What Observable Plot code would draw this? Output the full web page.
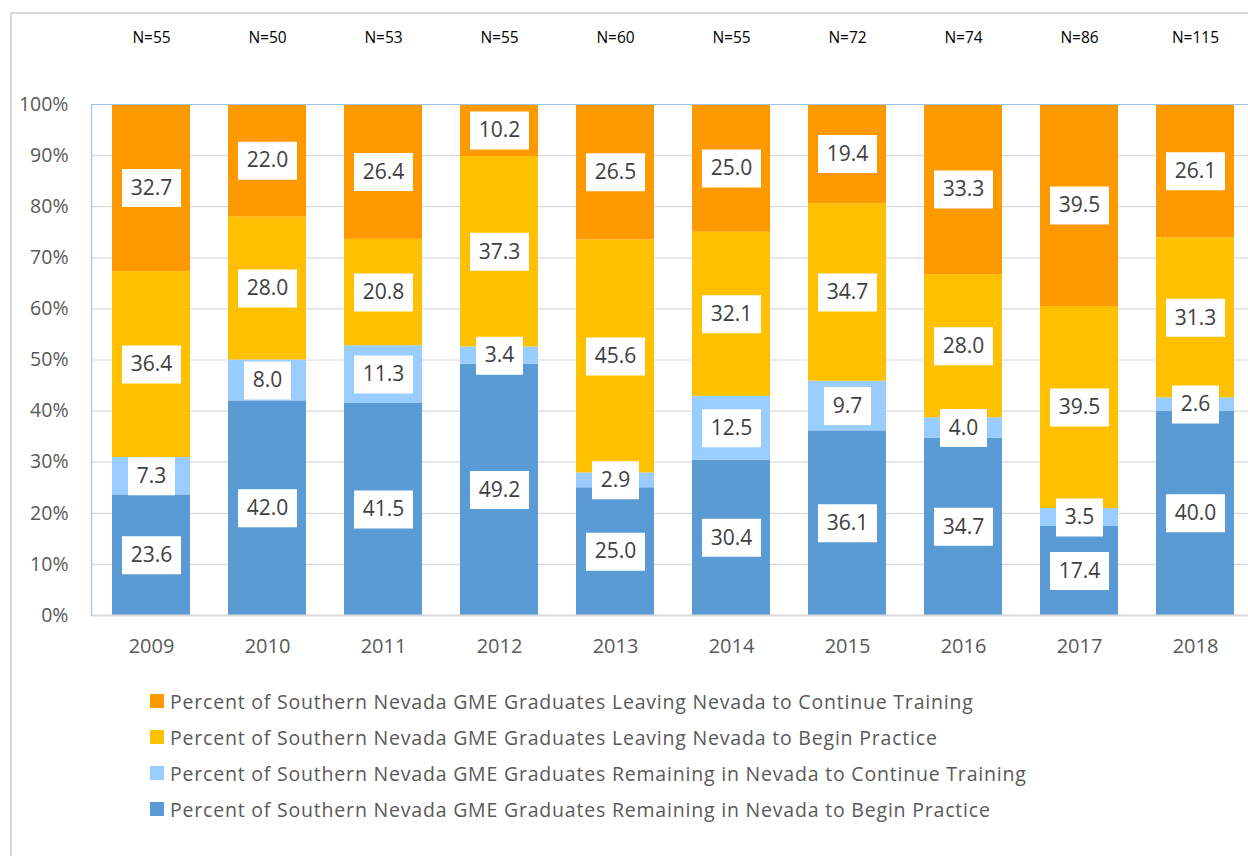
<!DOCTYPE html>
<html><head><meta charset="utf-8">
<script src="https://cdn.jsdelivr.net/npm/d3@7"></script>
<script src="https://cdn.jsdelivr.net/npm/@observablehq/plot@0.6"></script>
<style>
body{margin:0;background:#fff;font-family:"Open Sans",sans-serif;}
#wrap{position:relative;width:1248px;height:856px;overflow:hidden;}
#frame{position:absolute;left:10px;top:12px;width:2000px;height:2000px;border-left:2px solid #D9D9D9;border-top:2px solid #D9D9D9;pointer-events:none;}
#legend{padding-left:150px;margin-top:3px;color:#595959;font-size:19.5px;letter-spacing:0.8px;}
.row{height:36px;display:flex;align-items:center;}
.sw{width:14px;height:14px;margin-right:6px;flex:none;}
</style></head><body><div id="wrap"><div id="chart"></div><div id="legend"></div><div id="frame"></div></div>
<script>
const years = ["2009","2010","2011","2012","2013","2014","2015","2016","2017","2018"];
const nLabels = ["N=55","N=50","N=53","N=55","N=60","N=55","N=72","N=74","N=86","N=115"];
// series, bottom to top of each stack
const seriesNames = [
  "Percent of Southern Nevada GME Graduates Remaining in Nevada to Begin Practice",
  "Percent of Southern Nevada GME Graduates Remaining in Nevada to Continue Training",
  "Percent of Southern Nevada GME Graduates Leaving Nevada to Begin Practice",
  "Percent of Southern Nevada GME Graduates Leaving Nevada to Continue Training"
];
const seriesColors = ["#5B9BD5", "#99CCFF", "#FFC000", "#FF9900"];
const remainPractice = [23.6, 42.0, 41.5, 49.2, 25.0, 30.4, 36.1, 34.7, 17.4, 40.0];
const remainTraining = [7.3, 8.0, 11.3, 3.4, 2.9, 12.5, 9.7, 4.0, 3.5, 2.6];
const leavePractice  = [36.4, 28.0, 20.8, 37.3, 45.6, 32.1, 34.7, 28.0, 39.5, 31.3];
const leaveTraining  = [32.7, 22.0, 26.4, 10.2, 26.5, 25.0, 19.4, 33.3, 39.5, 26.1];
const yTicks = [0, 0.1, 0.2, 0.3, 0.4, 0.5, 0.6, 0.7, 0.8, 0.9, 1];

const seriesValues = [remainPractice, remainTraining, leavePractice, leaveTraining];
const rows = [];
years.forEach((year, i) => {
  const total = d3.sum(seriesValues, s => s[i]);
  let cum = 0;
  seriesValues.forEach((s, k) => {
    const v = s[i];
    const y1 = cum / total, y2 = (cum + v) / total;
    cum += v;
    const label = v.toFixed(1);
    rows.push({year, series: seriesNames[k], value: v, y1, y2, mid: (y1 + y2) / 2, label});
  });
});
const nRows = years.map((year, i) => ({year, n: nLabels[i]}));

const box = (w, h) => ({draw(ctx) {
  ctx.moveTo(-w / 2, -h / 2); ctx.lineTo(w / 2, -h / 2);
  ctx.lineTo(w / 2, h / 2); ctx.lineTo(-w / 2, h / 2); ctx.closePath();
}});

const chart = Plot.plot({
  width: 1248,
  height: 680,
  marginTop: 104,
  marginBottom: 65,
  marginLeft: 91,
  marginRight: 0,
  style: {fontFamily: "'Open Sans', sans-serif", color: "#595959", background: "transparent"},
  x: {type: "band", domain: years, range: [91, 1255], paddingInner: 0.33, paddingOuter: 0.165, align: 0.5, axis: null},
  y: {domain: [0, 1], axis: null},
  color: {domain: seriesNames, range: seriesColors},
  marks: [
    Plot.ruleY(yTicks.slice(1, -1), {stroke: "#D9D9D9", strokeWidth: 1.2}),
    Plot.barY(rows, {x: "year", y1: "y1", y2: "y2", fill: "series"}),
    Plot.ruleY([0], {stroke: "#D9D9D9", strokeWidth: 2}),
    Plot.ruleY([1], {stroke: "#9DC3E6", strokeWidth: 1.2}),
    Plot.frame({anchor: "left", stroke: "#9DC3E6", strokeWidth: 1.2}),
    Plot.dot(rows.filter(d => d.label.length === 3), {x: "year", y: "mid", symbol: box(47, 38), r: 1, fill: "white"}),
    Plot.dot(rows.filter(d => d.label.length !== 3), {x: "year", y: "mid", symbol: box(59, 38), r: 1, fill: "white"}),
    Plot.text(rows, {x: "year", y: "mid", text: "label", fill: "#404040", fontSize: 21, lineAnchor: "middle"}),
    Plot.axisY({ticks: yTicks, tickFormat: d3.format(".0%"), tickSize: 0, tickPadding: 23, fontSize: 19.5, label: null}),
    Plot.axisX({tickSize: 0, tickPadding: 23, fontSize: 20, label: null}),
    Plot.text(nRows, {x: "year", text: "n", frameAnchor: "top", dy: -66, fill: "#000", fontSize: 15.5, lineAnchor: "middle"})
  ]
});
document.getElementById("chart").appendChild(chart);

const legend = document.getElementById("legend");
for (let k = seriesNames.length - 1; k >= 0; k--) {
  const row = document.createElement("div");
  row.className = "row";
  const sw = document.createElement("span");
  sw.className = "sw";
  sw.style.background = seriesColors[k];
  const t = document.createElement("span");
  t.textContent = seriesNames[k];
  row.appendChild(sw); row.appendChild(t);
  legend.appendChild(row);
}
</script></body></html>
